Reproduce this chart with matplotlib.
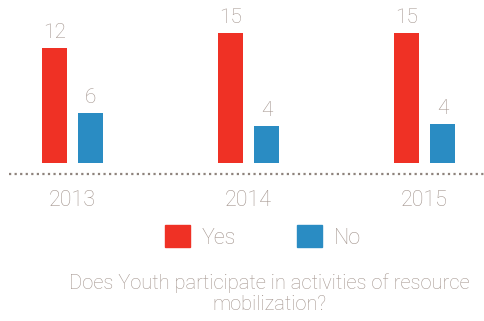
import matplotlib
matplotlib.use("Agg")
import matplotlib.pyplot as plt
from matplotlib.patches import Patch
import numpy as np

years = ["2013", "2014", "2015"]
yes_labels = [12, 15, 15]
no_labels = [6, 4, 4]
# bar heights as drawn in the picture (not proportional to the labels)
yes_heights = [115, 130, 130]
no_heights = [50, 37, 39]

RED = "#EF3125"
BLUE = "#2A8CC3"
GREY = "#A3958E"
LINE = "#8E837C"

plt.rcParams["font.family"] = ["Roboto", "DejaVu Sans"]
plt.rcParams["font.weight"] = "light"

fig = plt.figure(figsize=(4.85, 3.21), dpi=100)
ax = fig.add_axes([0, 0, 1, 1])
# one unit = 176 px horizontally, one unit = 1 px vertically
ax.set_xlim(-72.5 / 176, (485 - 72.5) / 176)
ax.set_ylim(-158, 163)
ax.axis("off")

x = np.arange(len(years))
w = 25 / 176
off = 18 / 176

ax.bar(x - off, yes_heights, w, color=RED)
ax.bar(x + off, no_heights, w, color=BLUE)

for i in range(len(years)):
    ax.text(x[i] - off, yes_heights[i] + 6, str(yes_labels[i]), ha="center", va="bottom",
            fontsize=15, color=GREY, fontweight="light")
    ax.text(x[i] + off, no_heights[i] + 6, str(no_labels[i]), ha="center", va="bottom",
            fontsize=15, color=GREY, fontweight="light")
    ax.text(x[i], -38, years[i], ha="center", va="center", fontsize=15.5,
            color=GREY, fontweight="light")

ax.plot([9 / 176 - 72.5 / 176, (485 - 72.5) / 176], [-10.5, -10.5], color=LINE,
        linestyle=(0, (1, 1.5)), linewidth=1.6)

handles = [Patch(color=RED, label="Yes"), Patch(color=BLUE, label="No")]
leg = fig.legend(handles=handles, loc="center", bbox_to_anchor=(263 / 485, 1 - 237 / 321),
                 ncol=2, frameon=False, fontsize=15.5, handlelength=1.16, handleheight=1.2,
                 handletextpad=0.56, columnspacing=2.8)
for t in leg.get_texts():
    t.set_color(GREY)

fig.text(269 / 485, 1 - 283 / 321, "Does Youth participate in activities of resource",
         ha="center", va="center", fontsize=14.5, color=GREY, fontweight="light")
fig.text(269 / 485, 1 - 304 / 321, "mobilization?", ha="center", va="center",
         fontsize=14.5, color=GREY, fontweight="light")

fig.savefig("out.png", dpi=100)
